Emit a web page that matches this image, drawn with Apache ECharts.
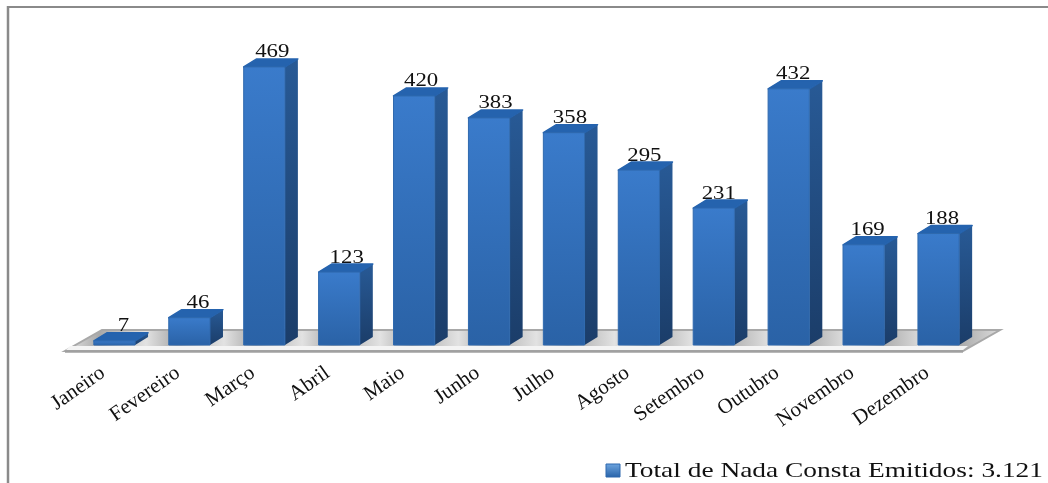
<!DOCTYPE html>
<html>
<head>
<meta charset="utf-8">
<style>
    html, body { margin: 0; padding: 0; background: #fff; }
    #chart { width: 1048px; height: 483px; }
</style>
<script src="https://cdn.jsdelivr.net/npm/echarts@6/dist/echarts.min.js"></script>
</head>
<body>
<div id="chart"></div>
<script>
const categories = ['Janeiro', 'Fevereiro', 'Março', 'Abril', 'Maio', 'Junho', 'Julho', 'Agosto', 'Setembro', 'Outubro', 'Novembro', 'Dezembro']
const values = [7, 46, 469, 123, 420, 383, 358, 295, 231, 432, 169, 188]
const legendText = 'Total de Nada Consta Emitidos: 3.121'

const serif = '"Liberation Serif", serif'
const depthX = 13
const depthY = 8

function vertical(a, b) {
    return new echarts.graphic.LinearGradient(0, 0, 0, 1, [{ offset: 0, color: a }, { offset: 1, color: b }])
}

// sombra diagonal do piso, uma faixa por categoria
function floorStops() {
    let stops = []
    for (let i = 0; i < categories.length; i++) {
        stops.push({ offset: (i + 0.05) / categories.length, color: '#e2e2e2' })
        stops.push({ offset: (i + 0.45) / categories.length, color: '#a8a8a8' })
        stops.push({ offset: (i + 0.95) / categories.length, color: '#d8d8d8' })
    }
    return stops
}

function renderFloor(params) {
    const c = params.coordSys
    const bottom = c.y + c.height
    const right = c.x + c.width
    const pts = [[c.x - 12, bottom + 6], [right - 13, bottom + 6], [right + 24, bottom - 15], [c.x + 25, bottom - 15]]
    return {
        type: 'group',
        children: [
            { type: 'polygon', shape: { points: pts }, style: { fill: new echarts.graphic.LinearGradient(0, 0, 1, 0, floorStops()), stroke: '#a8a8a8', lineWidth: 2 } },
            { type: 'polygon', shape: { points: [[c.x - 7, bottom + 1], [right - 8, bottom + 1], [right - 13, bottom + 5], [c.x - 11, bottom + 5]] }, style: { fill: '#f4f4f4' } },
            { type: 'line', shape: { x1: c.x - 12, y1: bottom + 6.5, x2: right - 13, y2: bottom + 6.5 }, style: { stroke: '#a0a0a0', lineWidth: 2.5 } }
        ]
    }
}

function renderBar(params, api) {
    const i = api.value(0)
    const top = api.coord([i, api.value(1)])
    const base = api.coord([i, 0])
    const w = api.size([1, 0])[0] * 0.55
    const x0 = top[0] - w / 2
    const x1 = top[0] + w / 2
    const y0 = top[1]
    const y1 = base[1]
    return {
        type: 'group',
        children: [
            {
                type: 'polygon',
                shape: { points: [[x1, y0], [x1 + depthX, y0 - depthY], [x1 + depthX, y1 - depthY], [x1, y1]] },
                style: { fill: vertical('#285a96', '#1b3d69') }
            },
            {
                type: 'polygon',
                shape: { points: [[x0, y0], [x0 + depthX, y0 - depthY], [x1 + depthX, y0 - depthY], [x1, y0]] },
                style: { fill: '#2563ae', stroke: '#2563ae', lineWidth: 1.5, lineJoin: 'round' }
            },
            {
                type: 'rect',
                shape: { x: x0, y: y0, width: w, height: y1 - y0 },
                style: { fill: vertical('#3a7bcb', '#2a62a6'), stroke: '#2f69ae', lineWidth: 1 }
            },
            {
                type: 'text',
                // o rótulo acompanha a perspectiva: mais à direita nas primeiras barras
                x: top[0] + 9 - i * 0.5,
                y: y0 - 5,
                scaleX: 1.2,
                z2: 10,
                style: { text: String(api.value(1)), font: '19px ' + serif, fill: '#111', align: 'center', verticalAlign: 'bottom' }
            }
        ]
    }
}

const myChart = echarts.init(document.getElementById('chart'))
myChart.setOption({
    animation: false,
    backgroundColor: '#fff',
    grid: { left: 77, width: 899, top: 48.5, height: 296.5 },
    xAxis: {
        type: 'category',
        data: categories,
        axisLine: { show: false },
        axisTick: { show: false },
        axisLabel: {
            interval: 0,
            rotate: 35,
            margin: 18,
            padding: [0, 14, 0, 0],
            fontFamily: serif,
            fontSize: 21,
            color: '#111'
        }
    },
    yAxis: { type: 'value', min: 0, max: 500, show: false },
    graphic: [
        { type: 'line', shape: { x1: 8, y1: 7, x2: 1048, y2: 7 }, style: { stroke: '#8a8a8a', lineWidth: 2 } },
        { type: 'line', shape: { x1: 8, y1: 6, x2: 8, y2: 483 }, style: { stroke: '#8a8a8a', lineWidth: 2.5 } },
        { type: 'rect', shape: { x: 606, y: 464, width: 14, height: 13 }, style: { fill: vertical('#6fa6e0', '#2762a8'), stroke: '#2f69ae' } },
        { type: 'text', x: 625, y: 471, scaleX: 1.245, style: { text: legendText, font: '22px ' + serif, fill: '#111', verticalAlign: 'middle' } }
    ],
    series: [
        { type: 'custom', silent: true, renderItem: renderFloor, data: [0], encode: { x: 0 } },
        { type: 'custom', name: legendText, renderItem: renderBar, data: values.map((v, i) => [i, v]), encode: { x: 0, y: 1 } }
    ]
})
</script>
</body>
</html>
